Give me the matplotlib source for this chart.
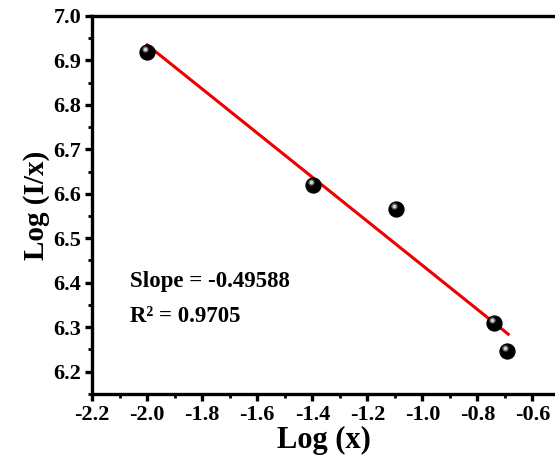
import numpy as np
import matplotlib.pyplot as plt
from matplotlib.transforms import offset_copy
from matplotlib.ticker import MultipleLocator

# data
log_x = [-2.0, -1.396, -1.094, -0.738, -0.691]
log_ix = [6.919, 6.620, 6.566, 6.310, 6.247]
slope = -0.49588
intercept = 5.9432
r2 = 0.9705
fit_x = np.array([-2.0, -0.688])

plt.rcParams['font.family'] = ['Liberation Serif', 'DejaVu Serif']
plt.rcParams['font.weight'] = 'bold'

fig = plt.figure(figsize=(5.55, 4.7), dpi=100)
ax = fig.add_axes([0.166, 0.162, 0.834, 0.804])

# fitted line
ax.plot(fit_x, slope * fit_x + intercept, color='#ee0000', lw=2.2, zorder=2)

# sphere-like markers: black ball plus a soft highlight up-left
ax.scatter(log_x, log_ix, s=115, color='black', zorder=3)
hl = offset_copy(ax.transData, fig=fig, x=-1.8, y=1.8, units='points')
ax.scatter(log_x, log_ix, s=22, color='#555555', transform=hl, zorder=4, lw=0)
ax.scatter(log_x, log_ix, s=8, color='#d0d0d0', transform=hl, zorder=5, lw=0)

ax.text(-2.062, 6.391, 'Slope = -0.49588', fontsize=16.5, fontweight='bold')
ax.text(-2.062, 6.312, 'R² = %.4f' % r2, fontsize=16.5, fontweight='bold')

ax.set_xlim(-2.2, -0.518)
ax.set_ylim(6.15, 7.0)
ax.xaxis.set_major_locator(MultipleLocator(0.2))
ax.xaxis.set_minor_locator(MultipleLocator(0.1))
ax.yaxis.set_major_locator(MultipleLocator(0.1))
ax.yaxis.set_minor_locator(MultipleLocator(0.05))
ax.xaxis.set_major_formatter(plt.FuncFormatter(lambda v, p: '%.1f' % v))
ax.yaxis.set_major_formatter(plt.FuncFormatter(lambda v, p: '%.1f' % v))

ax.spines['right'].set_visible(False)
for s in ['left', 'bottom', 'top']:
    ax.spines[s].set_linewidth(2.4)
ax.tick_params(which='major', direction='out', length=5, width=2.4, labelsize=16, pad=3)
ax.tick_params(which='minor', direction='out', length=3, width=2)
for lab in ax.get_xticklabels() + ax.get_yticklabels():
    lab.set_fontweight('bold')

ax.set_xlabel('Log (x)', fontsize=22, fontweight='bold', labelpad=1)
ax.set_ylabel('Log (I/x)', fontsize=21, fontweight='bold', labelpad=2)

fig.savefig('out.png', dpi=100)
